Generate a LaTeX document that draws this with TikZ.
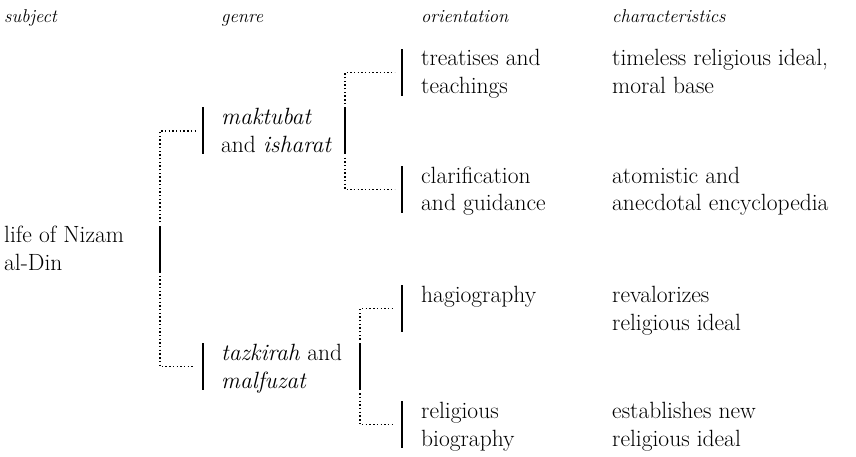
\documentclass[tikz,border=0pt]{standalone}
\usepackage{fontspec}
\setmainfont{Latin Modern Roman}
\begin{document}
\begin{tikzpicture}[x=1pt,y=-1pt,
  txt/.style={anchor=base west, inner sep=0pt, align=left, font=\fontsize{23.5}{28}\selectfont},
  hdr/.style={anchor=base west, inner sep=0pt, font=\fontsize{18.5}{22}\selectfont\itshape},
  bar/.style={fill=black, draw=none, inner sep=0pt, minimum width=2.4pt, minimum height=47pt},
  dots/.style={line width=1.5pt, line cap=butt, dash pattern=on 1.4pt off 2.3pt}]
\useasboundingbox (0,0) rectangle (856,457);
% headers
\node[hdr] (hsub) at (4,23) {subject};
\node[hdr] (hgen) at (221,23) {genre};
\node[hdr] (hori) at (421,23) {orientation};
\node[hdr] (hcha) at (612,23) {characteristics};
% texts (base anchor = last line)
\node[txt] (root) at (4,270.5) {life of Nizam\\al-Din};
\node[txt] (mak) at (221,153) {\textit{maktubat}\\and \textit{isharat}};
\node[txt] (taz) at (221,388) {\textit{tazkirah} and\\\textit{malfuzat}};
\node[txt] (treat) at (421,94) {treatises and\\teachings};
\node[txt] (clar) at (421,211) {clarification\\and guidance};
\node[txt] (hag) at (421,302) {hagiography};
\node[txt] (rel) at (421,446) {religious\\biography};
\node[txt] (c1) at (612,94) {timeless religious ideal,\\moral base};
\node[txt] (c2) at (612,211) {atomistic and\\anecdotal encyclopedia};
\node[txt] (c3) at (612,330) {revalorizes\\religious ideal};
\node[txt] (c4) at (612,446) {establishes new\\religious ideal};
% bars
\node[bar] (broot) at (160,249) {};
\node[bar] (bmak) at (203,131) {};
\node[bar] (btaz) at (203,366.5) {};
\node[bar] (bmakR) at (345,131) {};
\node[bar] (btazR) at (360,366.5) {};
\node[bar] (btreat) at (402,72.5) {};
\node[bar] (bclar) at (402,189.5) {};
\node[bar] (bhag) at (402,308.5) {};
\node[bar] (brel) at (402,424.5) {};
% dotted connectors
\draw[dots] ([yshift=3pt]broot.north) |- ([xshift=-7pt]bmak.west);
\draw[dots] ([yshift=-3pt]broot.south) |- ([xshift=-7pt]btaz.west);
\draw[dots] ([yshift=3pt]bmakR.north) |- ([xshift=-6pt]btreat.west);
\draw[dots] ([yshift=-3pt]bmakR.south) |- ([xshift=-6pt]bclar.west);
\draw[dots] ([yshift=3pt]btazR.north) |- ([xshift=-6pt]bhag.west);
\draw[dots] ([yshift=-3pt]btazR.south) |- ([xshift=-6pt]brel.west);
\end{tikzpicture}
\end{document}
